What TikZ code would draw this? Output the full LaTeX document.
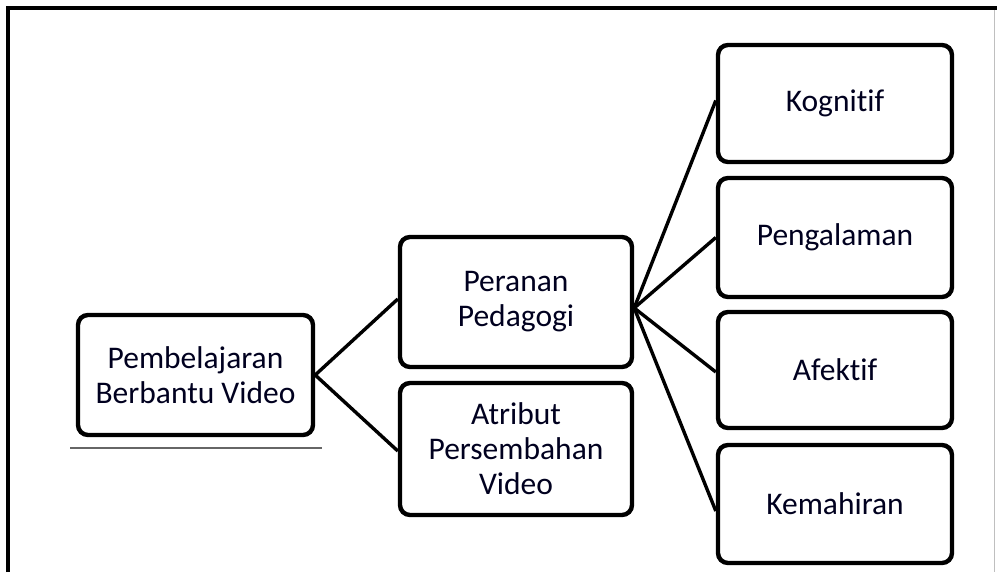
\documentclass[tikz,border=0pt]{standalone}
\usepackage{fontspec}
\setmainfont[Ligatures=NoCommon]{Carlito}
\begin{document}
\begin{tikzpicture}[x=1pt,y=-1pt,
  box/.style={draw=black, line width=4.4pt, rounded corners=10pt, fill=white,
    align=center, inner sep=2pt, text=black!88!blue,
    font=\fontsize{31.5}{35}\selectfont},
  link/.style={draw=black, line width=3.4pt},
  frameline/.style={draw=black, line width=4pt}]
\useasboundingbox (0,0) rectangle (997,573);
\fill[white] (0,0) rectangle (997,573);
% outer frame
\draw[black!25, line width=1pt] (994,8) -- (994,572);
\draw[frameline] (8,572) -- (8,8) -- (997,8);
% nodes
\node[box, minimum width=235, minimum height=120] (pbv) at (195.5,375) {Pembelajaran\\Berbantu Video};
\node[box, minimum width=232, minimum height=130] (pp) at (516,302) {Peranan\\Pedagogi};
\node[box, minimum width=232, minimum height=132] (apv) at (516,449) {Atribut\\Persembahan\\Video};
\node[box, minimum width=234, minimum height=117] (kog) at (835,103.5) {Kognitif};
\node[box, minimum width=234, minimum height=119] (pen) at (835,237.5) {Pengalaman};
\node[box, minimum width=234, minimum height=116] (afe) at (835,370) {Afektif};
\node[box, minimum width=234, minimum height=118] (kem) at (835,504) {Kemahiran};
% underline
\coordinate (ulA) at (70,448);
\coordinate (ulB) at (322,448);
\draw[black!60, line width=1.2pt] (ulA) -- (ulB);
% connectors
\draw[link] (pbv.east) -- ([yshift=3]pp.west);
\draw[link] (pbv.east) -- ([yshift=-2]apv.west);
\draw[link] ([yshift=-6]pp.east) -- ([yshift=3]kog.west);
\draw[link] ([yshift=-6]pp.east) -- (pen.west);
\draw[link] ([yshift=-6]pp.east) -- ([yshift=-2]afe.west);
\draw[link] ([yshift=-6]pp.east) -- ([yshift=-7]kem.west);
\end{tikzpicture}
\end{document}
